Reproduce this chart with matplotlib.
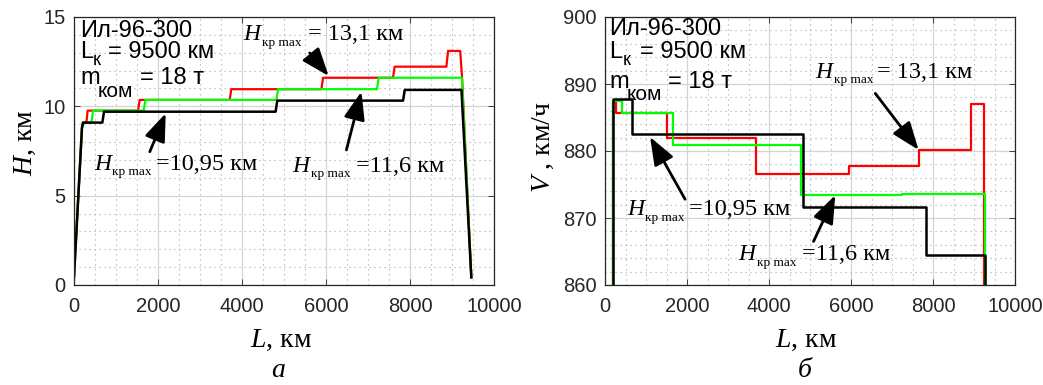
import matplotlib
matplotlib.use('Agg')
import matplotlib.pyplot as plt
from matplotlib.ticker import MultipleLocator

plt.rcParams['mathtext.fontset'] = 'custom'
plt.rcParams['mathtext.rm'] = 'Liberation Serif'
plt.rcParams['mathtext.it'] = 'Liberation Serif:italic'
plt.rcParams['font.family'] = ['Liberation Sans', 'DejaVu Sans']

# ---------------- data: panel a (H vs L) ----------------
L_h_red = [0, 190, 215, 295, 325, 1525, 1565, 3707, 3745, 5890, 5930, 7595, 7635, 8866, 8906, 9195, 9240, 9460]
H_red = [0.45, 8.8, 9.09, 9.09, 9.76, 9.76, 10.36, 10.36, 10.96, 10.96, 11.6, 11.6, 12.22, 12.22, 13.1, 13.1, 11.6, 0.43]
L_h_green = [0, 190, 215, 414, 454, 1660, 1700, 4820, 4860, 7215, 7255, 9235, 9460]
H_green = [0.45, 8.8, 9.09, 9.09, 9.76, 9.76, 10.36, 10.36, 10.96, 10.96, 11.6, 11.6, 0.43]
L_h_black = [0, 190, 215, 675, 715, 4800, 4840, 7835, 7875, 9225, 9460]
H_black = [0.45, 8.8, 9.09, 9.09, 9.7, 9.7, 10.32, 10.32, 10.92, 10.92, 0.43]

# ---------------- data: panel б (V vs L) ----------------
L_v_red = [203, 203, 268, 268, 1522, 1522, 3687, 3687, 5941, 5941, 7650, 7650, 8928, 8928, 9254, 9254]
V_red = [860, 887.3, 887.3, 885.7, 885.7, 881.9, 881.9, 876.6, 876.6, 877.7, 877.7, 880.15, 880.15, 887.0, 887.0, 860]
L_v_green = [203, 203, 407, 407, 1652, 1652, 4785, 4785, 7243, 7243, 9261, 9261]
V_green = [860, 887.5, 887.5, 885.7, 885.7, 880.85, 880.85, 873.4, 873.4, 873.6, 873.6, 860]
L_v_black = [203, 203, 667, 667, 4826, 4826, 7837, 7837, 9261, 9261]
V_black = [860, 887.7, 887.7, 882.5, 882.5, 871.7, 871.7, 864.5, 864.5, 860]

x_ticks = [0, 2000, 4000, 6000, 8000, 10000]
h_ticks = [0, 5, 10, 15]
v_ticks = [860, 870, 880, 890, 900]

W, H = 1043, 385
fig = plt.figure(figsize=(W / 100, H / 100), dpi=100)
ax1 = fig.add_axes([74 / W, 100 / H, 420 / W, 268 / H])
ax2 = fig.add_axes([605 / W, 100 / H, 410 / W, 268 / H])

RED, GREEN, BLACK = '#ff0000', '#00ff00', '#000000'


def style(ax, yticks, ymin_step):
    ax.set_xlim(0, 10000)
    ax.set_xticks(x_ticks)
    ax.set_yticks(yticks)
    ax.set_ylim(yticks[0], yticks[-1])
    ax.xaxis.set_minor_locator(MultipleLocator(500))
    ax.yaxis.set_minor_locator(MultipleLocator(ymin_step))
    ax.grid(which='major', color='#d4d4d4', lw=0.9, ls='-')
    ax.grid(which='minor', color='#a8a8a8', lw=0.8, ls=(0, (1, 3.5)))
    ax.set_axisbelow(True)
    ax.tick_params(which='both', direction='in', top=True, right=True, colors='#262626',
                   labelsize=14.5)
    ax.tick_params(which='major', length=4, width=0.6)
    ax.tick_params(which='minor', length=0)
    ax.tick_params(axis='x', pad=9)
    ax.tick_params(axis='y', pad=6)
    for s in ax.spines.values():
        s.set_color('#262626')
        s.set_linewidth(0.9)


style(ax1, h_ticks, 1)
style(ax2, v_ticks, 2)

ax1.plot(L_h_red, H_red, color=RED, lw=1.6)
ax1.plot(L_h_green, H_green, color=GREEN, lw=1.6)
ax1.plot(L_h_black, H_black, color=BLACK, lw=1.8)

ax2.plot(L_v_red, V_red, color=RED, lw=1.6)
ax2.plot(L_v_green, V_green, color=GREEN, lw=1.6)
ax2.plot(L_v_black, V_black, color=BLACK, lw=1.8)


def ftext(x, y, s, **kw):
    fig.text(x / W, 1 - y / H, s, va='baseline', **kw)


SERIF = ['Liberation Serif', 'DejaVu Serif']


def hlabel(xH, yb, xs, ys, xr, rest):
    ftext(xH, yb, 'H', family=SERIF, style='italic', fontsize=17)
    ftext(xs, ys, 'кр max', family=SERIF, fontsize=9.5)
    ftext(xr, yb, rest, family=SERIF, fontsize=17.5)


# panel info texts
for (x0, yl1, yl2, yl3, dk, ykb, dm, ykomb, xeq1, xeq2) in [
        (80, 37, 58, 84, 13, 65, 18, 97, 108, 140),
        (609, 35, 58, 88, 14, 65, 18, 100, 640, 668)]:
    ftext(x0, yl1, 'Ил-96-300', fontsize=17)
    ftext(x0, yl2, 'L', fontsize=17)
    ftext(x0 + dk, ykb, 'к', fontsize=13)
    ftext(xeq1, yl2, '= 9500 км', fontsize=17)
    ftext(x0, yl3, 'm', fontsize=17)
    ftext(x0 + dm, ykomb, 'ком', fontsize=15)
    ftext(xeq2, yl3, '= 18 т', fontsize=17)

# annotations panel a
hlabel(243, 40, 262, 46, 308, '= 13,1 км')
hlabel(94, 170, 112, 175, 156, '=10,95 км')
hlabel(292, 172, 311, 177, 356, '=11,6 км')
# annotations panel б
hlabel(815, 78, 834, 83, 877, '= 13,1 км')
hlabel(627, 215, 645, 221, 689, '=10,95 км')
hlabel(738, 260, 757, 266, 802, '=11,6 км')

arrow = dict(arrowstyle='-|>,head_length=0.9,head_width=0.34', lw=2, color='k',
             mutation_scale=19, shrinkA=0, shrinkB=0)
ax1.annotate('', xy=(6064, 11.70), xytext=(5612, 12.99), arrowprops=arrow)
ax1.annotate('', xy=(2183, 9.61), xytext=(1805, 7.46), arrowprops=arrow)
ax1.annotate('', xy=(6843, 10.82), xytext=(6486, 7.56), arrowprops=arrow)
ax2.annotate('', xy=(7649, 880.15), xytext=(6592, 888.6), arrowprops=arrow)
ax2.annotate('', xy=(1099, 882.1), xytext=(1953, 872.8), arrowprops=arrow)
ax2.annotate('', xy=(5615, 873.4), xytext=(5086, 866.5), arrowprops=arrow)

# axis labels
fig.text(281 / W, 1 - 347 / H, r'$L$, км', family=SERIF, fontsize=20, ha='center', va='baseline')
fig.text(806 / W, 1 - 347 / H, r'$L$, км', family=SERIF, fontsize=20, ha='center', va='baseline')
fig.text(25 / W, 1 - 143 / H, r'$H$, км', family=SERIF, fontsize=20, ha='center', va='center', rotation=90)
fig.text(543 / W, 1 - 147 / H, r'$V$ , км/ч', family=SERIF, fontsize=20, ha='center', va='center', rotation=90)
fig.text(278 / W, 1 - 377 / H, 'а', family=SERIF, style='italic', fontsize=20, ha='center', va='baseline')
fig.text(805 / W, 1 - 377 / H, 'б', family=SERIF, style='italic', fontsize=20, ha='center', va='baseline')

fig.savefig('out.png', dpi=100)
